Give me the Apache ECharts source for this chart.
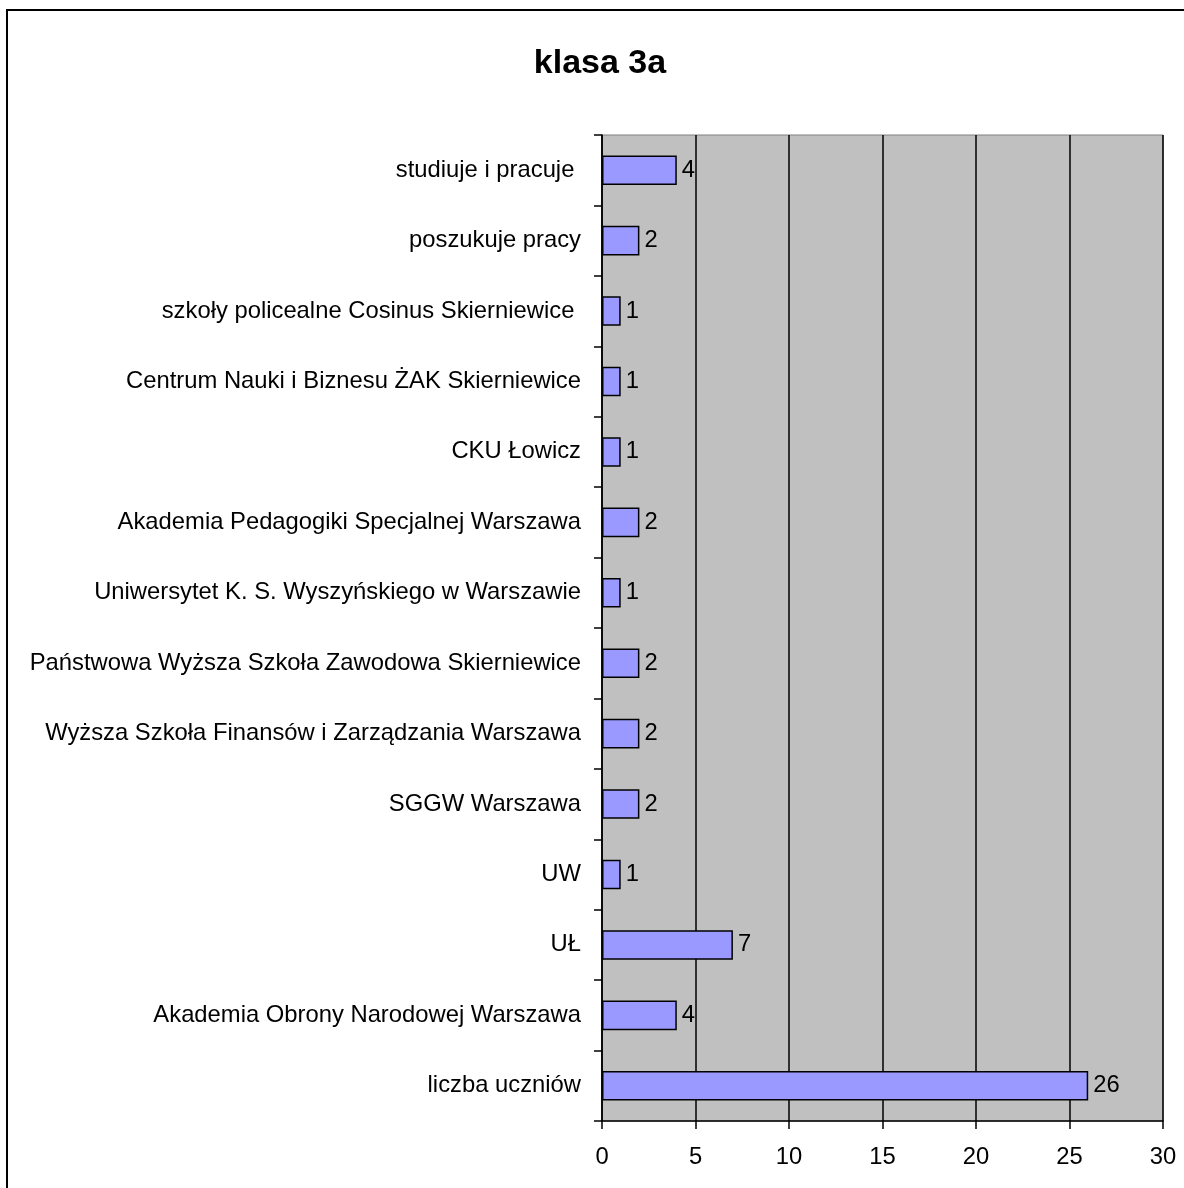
<!DOCTYPE html>
<html>
<head>
<meta charset="utf-8">
<script src="https://cdn.jsdelivr.net/npm/echarts@6/dist/echarts.min.js"></script>
<style>
  html, body { margin: 0; padding: 0; background: #fff; }
  #chart { width: 1184px; height: 1188px; }
</style>
</head>
<body>
<div id="chart"></div>
<script>
// categories from bottom to top (echarts puts the first one at the bottom)
const categories = [
  'liczba uczniów',
  'Akademia Obrony Narodowej Warszawa',
  'UŁ',
  'UW',
  'SGGW Warszawa',
  'Wyższa Szkoła Finansów i Zarządzania Warszawa',
  'Państwowa Wyższa Szkoła Zawodowa Skierniewice',
  'Uniwersytet K. S. Wyszyńskiego w Warszawie',
  'Akademia Pedagogiki Specjalnej Warszawa',
  'CKU Łowicz',
  'Centrum Nauki i Biznesu ŻAK Skierniewice',
  'szkoły policealne Cosinus Skierniewice ',
  'poszukuje pracy',
  'studiuje i pracuje '
]
const values = [26, 4, 7, 1, 2, 2, 2, 1, 2, 1, 1, 1, 2, 4]
const xMin = 0
const xMax = 30
const xStep = 5

const font = 'Liberation Sans, Arial, sans-serif'
const chart = echarts.init(document.getElementById('chart'))

const option = {
  animation: false,
  textStyle: { fontFamily: font },
  title: {
    text: 'klasa 3a',
    left: 600,
    top: 47,
    padding: 0,
    textAlign: 'center',
    textStyle: { fontSize: 34, fontWeight: 'bold', color: '#000', fontFamily: font }
  },
  graphic: [
    {
      type: 'rect',
      silent: true,
      shape: { x: 7, y: 10, width: 1300, height: 1300 },
      style: { fill: null, stroke: '#000', lineWidth: 2 }
    }
  ],
  grid: {
    left: 602,
    right: 21,
    top: 135,
    bottom: 67,
    show: true,
    backgroundColor: '#c0c0c0',
    borderColor: '#808080',
    borderWidth: 1
  },
  xAxis: {
    type: 'value',
    min: xMin,
    max: xMax,
    interval: xStep,
    axisLine: { show: true, lineStyle: { color: '#000', width: 1.5 } },
    axisTick: { show: true, length: 8, lineStyle: { color: '#000', width: 1.5 } },
    axisLabel: { color: '#000', fontSize: 23.8, margin: 24 },
    splitLine: { show: true, lineStyle: { color: '#000', width: 1.5 } }
  },
  yAxis: {
    type: 'category',
    data: categories,
    axisLine: { show: true, lineStyle: { color: '#000', width: 1.5 } },
    axisTick: { show: true, length: 8, lineStyle: { color: '#000', width: 1.5 } },
    axisLabel: { color: '#000', fontSize: 23.8, margin: 21, interval: 0 }
  },
  series: [
    {
      type: 'bar',
      data: values,
      barWidth: '42%',
      itemStyle: { color: '#9999ff', borderColor: '#000', borderWidth: 1.5 },
      label: { show: true, position: 'right', distance: 5, color: '#000', fontSize: 23.8 }
    }
  ]
}
chart.setOption(option)
</script>
</body>
</html>
